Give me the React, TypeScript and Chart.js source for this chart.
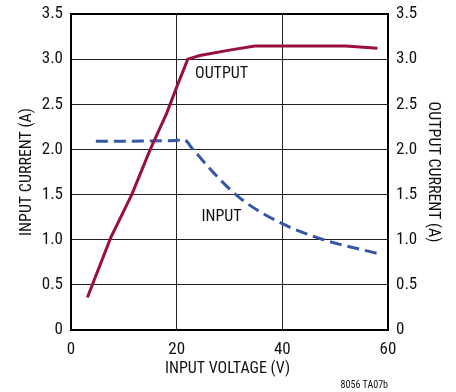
import React, { useEffect, useRef } from "react";
import { Chart, registerables } from "chart.js";

Chart.register(...registerables);

const outputVoltage = [3.1, 7.5, 11.5, 15.0, 18.1, 20, 22.1, 24.4, 30, 34.8, 52, 58];
const outputCurrent = [0.36, 1.02, 1.5, 2.0, 2.4, 2.69, 3.0, 3.04, 3.1, 3.145, 3.145, 3.12];

const inputVoltage = [4.7, 20, 21.3, 23.1, 27.1, 32.0, 39.9, 47.8, 57.9];
const inputCurrent = [2.09, 2.1, 2.11, 2.0, 1.735, 1.46, 1.18, 1.0, 0.85];

const xTicks = [0, 20, 40, 60];
const yTicks = [0, 0.5, 1, 1.5, 2, 2.5, 3, 3.5];

const FONT = "'Liberation Sans Narrow', 'Roboto Condensed', 'Arial Narrow', 'Liberation Sans', sans-serif";
const RED = "#9a0f3c";
const BLUE = "#3656a8";

const fmtY = (v: number) => (v === 0 ? "0" : v.toFixed(1));

const textPlugin = {
  id: "texts",
  afterDraw(chart: any) {
    const ctx = chart.ctx;
    const { left, right, top, bottom } = chart.chartArea;
    const xs = chart.scales.x;
    const ys = chart.scales.y;
    ctx.save();
    ctx.fillStyle = "#111";
    ctx.textAlign = "center";
    ctx.textBaseline = "middle";
    ctx.font = `16px ${FONT}`;
    ctx.fillText("OUTPUT", xs.getPixelForValue(28.5), ys.getPixelForValue(2.83));
    ctx.fillText("INPUT", xs.getPixelForValue(28.5), ys.getPixelForValue(1.25));
    ctx.fillText("INPUT VOLTAGE (V)", (left + right) / 2 - 2, 369);
    ctx.save();
    ctx.translate(27, (top + bottom) / 2);
    ctx.rotate(-Math.PI / 2);
    ctx.fillText("INPUT CURRENT (A)", 0, 0);
    ctx.restore();
    ctx.save();
    ctx.translate(433, (top + bottom) / 2);
    ctx.rotate(Math.PI / 2);
    ctx.fillText("OUTPUT CURRENT (A)", 0, 0);
    ctx.restore();
    ctx.font = `10px ${FONT}`;
    ctx.textAlign = "right";
    ctx.fillText("8056 TA07b", 388, 385);
    ctx.restore();
  },
};

const yAfterFit = (w: number) => (s: any) => {
  s.width = w;
  s.paddingTop = 0;
  s.paddingBottom = 0;
};

export default function App() {
  const ref = useRef<HTMLCanvasElement | null>(null);
  useEffect(() => {
    if (!ref.current) return;
    const chart = new Chart(ref.current, {
      type: "line",
      data: {
        datasets: [
          {
            label: "OUTPUT",
            data: outputVoltage.map((v, i) => ({ x: v, y: outputCurrent[i] })),
            borderColor: RED,
            borderWidth: 3,
            pointRadius: 0,
            tension: 0,
            yAxisID: "y2",
          },
          {
            label: "INPUT",
            data: inputVoltage.map((v, i) => ({ x: v, y: inputCurrent[i] })),
            borderColor: BLUE,
            borderWidth: 3,
            borderDash: [12, 6],
            pointRadius: 0,
            cubicInterpolationMode: "monotone",
            yAxisID: "y",
          },
        ],
      },
      options: {
        responsive: false,
        animation: false,
        layout: { padding: { top: 14, left: 0, right: 0, bottom: 0 } },
        plugins: { legend: { display: false }, tooltip: { enabled: false } },
        scales: {
          x: {
            type: "linear",
            min: 0,
            max: 60,
            afterBuildTicks: (s: any) => {
              s.ticks = xTicks.map((v) => ({ value: v }));
            },
            afterFit: (s: any) => {
              s.height = 62;
            },
            grid: { color: "#222", lineWidth: 1, drawTicks: false },
            border: { color: "#000", width: 2 },
            ticks: { color: "#111", font: { family: FONT, size: 17 }, padding: 10, maxRotation: 0 },
          },
          y: {
            type: "linear",
            position: "left",
            min: 0,
            max: 3.5,
            afterBuildTicks: (s: any) => {
              s.ticks = yTicks.map((v) => ({ value: v }));
            },
            afterFit: yAfterFit(71),
            grid: { color: "#222", lineWidth: 1, drawTicks: false },
            border: { color: "#000", width: 2 },
            ticks: { color: "#111", font: { family: FONT, size: 17 }, padding: 8, callback: (v: any) => fmtY(Number(v)) },
          },
          y2: {
            type: "linear",
            position: "right",
            min: 0,
            max: 3.5,
            afterBuildTicks: (s: any) => {
              s.ticks = yTicks.map((v) => ({ value: v }));
            },
            afterFit: yAfterFit(68),
            grid: { display: false, drawTicks: false },
            border: { color: "#000", width: 2 },
            ticks: { color: "#111", font: { family: FONT, size: 17 }, padding: 8, callback: (v: any) => fmtY(Number(v)) },
          },
        },
      },
      plugins: [
        textPlugin,
        {
          id: "topBorder",
          afterDatasetsDraw(chart: any) {
            const { left, right, top } = chart.chartArea;
            const ctx = chart.ctx;
            ctx.save();
            ctx.strokeStyle = "#000";
            ctx.lineWidth = 2;
            ctx.beginPath();
            ctx.moveTo(left - 1, top);
            ctx.lineTo(right + 1, top);
            ctx.stroke();
            ctx.restore();
          },
        },
      ],
    } as any);
    return () => chart.destroy();
  }, []);
  return (
    <div style={{ position: "absolute", left: 0, top: 0, width: 456, height: 392, background: "#fff" }}>
      <canvas ref={ref} width={456} height={392} style={{ display: "block" }} />
    </div>
  );
}
